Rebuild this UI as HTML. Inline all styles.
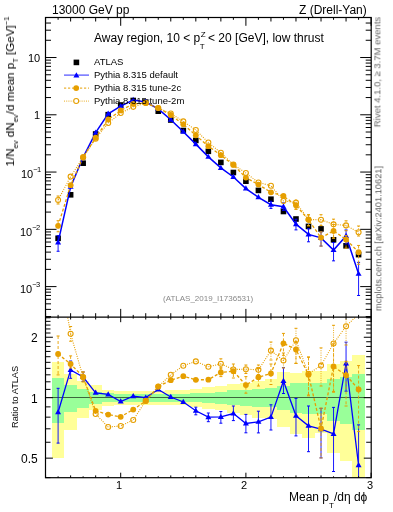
<!DOCTYPE html>
<html><head><meta charset="utf-8"><style>
html,body{margin:0;padding:0;background:#fff;}
body{width:393px;height:512px;position:relative;overflow:hidden;-webkit-font-smoothing:antialiased;font-family:"Liberation Sans",sans-serif;color:#000;}
.t{position:absolute;white-space:nowrap;line-height:1;will-change:transform;}
sub,sup{line-height:0;}
</style></head><body>
<svg width="393" height="512" viewBox="0 0 393 512" style="position:absolute;left:0;top:0"><defs><clipPath id="cm"><rect x="45.5" y="17.5" width="325.7" height="299.7"/></clipPath><clipPath id="cr"><rect x="45.5" y="317.2" width="325.7" height="160.5"/></clipPath></defs><g clip-path="url(#cr)" shape-rendering="crispEdges"><rect x="51.84" y="362.10" width="12.52" height="95.90" fill="#ffff99"/><rect x="64.36" y="373.50" width="12.52" height="56.10" fill="#ffff99"/><rect x="76.88" y="380.80" width="12.52" height="37.40" fill="#ffff99"/><rect x="89.40" y="385.40" width="12.52" height="24.40" fill="#ffff99"/><rect x="101.92" y="390.20" width="12.52" height="15.50" fill="#ffff99"/><rect x="114.44" y="391.10" width="12.52" height="13.50" fill="#ffff99"/><rect x="126.96" y="391.00" width="12.52" height="13.80" fill="#ffff99"/><rect x="139.48" y="391.00" width="12.52" height="13.80" fill="#ffff99"/><rect x="152.00" y="390.80" width="12.52" height="14.00" fill="#ffff99"/><rect x="164.52" y="390.30" width="12.52" height="14.70" fill="#ffff99"/><rect x="177.04" y="389.80" width="12.52" height="15.60" fill="#ffff99"/><rect x="189.56" y="388.80" width="12.52" height="17.80" fill="#ffff99"/><rect x="202.08" y="387.10" width="12.52" height="21.70" fill="#ffff99"/><rect x="214.60" y="385.90" width="12.52" height="24.50" fill="#ffff99"/><rect x="227.12" y="383.90" width="12.52" height="29.30" fill="#ffff99"/><rect x="239.64" y="383.00" width="12.52" height="32.30" fill="#ffff99"/><rect x="252.16" y="380.70" width="12.52" height="36.80" fill="#ffff99"/><rect x="264.68" y="379.30" width="12.52" height="39.50" fill="#ffff99"/><rect x="277.20" y="371.90" width="12.52" height="54.90" fill="#ffff99"/><rect x="289.72" y="372.80" width="12.52" height="61.50" fill="#ffff99"/><rect x="302.24" y="371.10" width="12.52" height="67.30" fill="#ffff99"/><rect x="314.76" y="370.60" width="12.52" height="62.80" fill="#ffff99"/><rect x="327.28" y="363.50" width="12.52" height="89.80" fill="#ffff99"/><rect x="339.80" y="361.00" width="12.52" height="100.40" fill="#ffff99"/><rect x="352.32" y="354.90" width="12.52" height="123.10" fill="#ffff99"/><rect x="51.84" y="377.80" width="12.52" height="45.00" fill="#99ff99"/><rect x="64.36" y="385.10" width="12.52" height="27.10" fill="#99ff99"/><rect x="76.88" y="388.60" width="12.52" height="19.10" fill="#99ff99"/><rect x="89.40" y="392.00" width="12.52" height="12.10" fill="#99ff99"/><rect x="101.92" y="393.30" width="12.52" height="8.50" fill="#99ff99"/><rect x="114.44" y="394.10" width="12.52" height="7.70" fill="#99ff99"/><rect x="126.96" y="393.90" width="12.52" height="7.90" fill="#99ff99"/><rect x="139.48" y="393.90" width="12.52" height="7.90" fill="#99ff99"/><rect x="152.00" y="393.80" width="12.52" height="8.00" fill="#99ff99"/><rect x="164.52" y="393.60" width="12.52" height="7.90" fill="#99ff99"/><rect x="177.04" y="393.60" width="12.52" height="8.00" fill="#99ff99"/><rect x="189.56" y="393.20" width="12.52" height="8.90" fill="#99ff99"/><rect x="202.08" y="392.60" width="12.52" height="10.40" fill="#99ff99"/><rect x="214.60" y="392.10" width="12.52" height="11.40" fill="#99ff99"/><rect x="227.12" y="390.40" width="12.52" height="15.00" fill="#99ff99"/><rect x="239.64" y="389.80" width="12.52" height="15.80" fill="#99ff99"/><rect x="252.16" y="388.80" width="12.52" height="18.30" fill="#99ff99"/><rect x="264.68" y="388.30" width="12.52" height="19.10" fill="#99ff99"/><rect x="277.20" y="386.00" width="12.52" height="24.30" fill="#99ff99"/><rect x="289.72" y="383.20" width="12.52" height="29.60" fill="#99ff99"/><rect x="302.24" y="382.70" width="12.52" height="30.90" fill="#99ff99"/><rect x="314.76" y="382.70" width="12.52" height="30.90" fill="#99ff99"/><rect x="327.28" y="378.80" width="12.52" height="42.20" fill="#99ff99"/><rect x="339.80" y="377.20" width="12.52" height="46.40" fill="#99ff99"/><rect x="352.32" y="373.70" width="12.52" height="56.70" fill="#99ff99"/></g><line x1="45.5" y1="397.5" x2="371.2" y2="397.5" stroke="#000" stroke-opacity="0.6" stroke-width="1.2"/><g clip-path="url(#cr)"><polyline points="58.10,412.20 70.62,369.90 83.14,377.00 95.66,392.80 108.18,394.40 120.70,401.50 133.22,396.20 145.74,397.60 158.26,389.50 170.78,397.00 183.30,402.00 195.82,410.80 208.34,417.20 220.86,416.90 233.38,413.50 245.90,423.50 258.42,421.80 270.94,417.10 283.46,381.00 295.98,415.80 308.50,425.80 321.02,429.20 333.54,433.90 346.06,363.50 358.58,465.20" fill="none" stroke="#0000ff" stroke-width="1.3" /><line x1="58.10" y1="388.30" x2="58.10" y2="443.10" stroke="#0000ff" stroke-width="0.9" /><line x1="56.60" y1="388.30" x2="59.60" y2="388.30" stroke="#0000ff" stroke-width="1"/><line x1="56.60" y1="443.10" x2="59.60" y2="443.10" stroke="#0000ff" stroke-width="1"/><line x1="70.62" y1="361.00" x2="70.62" y2="378.30" stroke="#0000ff" stroke-width="0.9" /><line x1="69.12" y1="361.00" x2="72.12" y2="361.00" stroke="#0000ff" stroke-width="1"/><line x1="69.12" y1="378.30" x2="72.12" y2="378.30" stroke="#0000ff" stroke-width="1"/><line x1="83.14" y1="372.00" x2="83.14" y2="381.50" stroke="#0000ff" stroke-width="0.9" /><line x1="81.64" y1="372.00" x2="84.64" y2="372.00" stroke="#0000ff" stroke-width="1"/><line x1="81.64" y1="381.50" x2="84.64" y2="381.50" stroke="#0000ff" stroke-width="1"/><line x1="195.82" y1="407.20" x2="195.82" y2="414.80" stroke="#0000ff" stroke-width="0.9" /><line x1="194.32" y1="407.20" x2="197.32" y2="407.20" stroke="#0000ff" stroke-width="1"/><line x1="194.32" y1="414.80" x2="197.32" y2="414.80" stroke="#0000ff" stroke-width="1"/><line x1="208.34" y1="413.00" x2="208.34" y2="421.70" stroke="#0000ff" stroke-width="0.9" /><line x1="206.84" y1="413.00" x2="209.84" y2="413.00" stroke="#0000ff" stroke-width="1"/><line x1="206.84" y1="421.70" x2="209.84" y2="421.70" stroke="#0000ff" stroke-width="1"/><line x1="220.86" y1="411.50" x2="220.86" y2="423.20" stroke="#0000ff" stroke-width="0.9" /><line x1="219.36" y1="411.50" x2="222.36" y2="411.50" stroke="#0000ff" stroke-width="1"/><line x1="219.36" y1="423.20" x2="222.36" y2="423.20" stroke="#0000ff" stroke-width="1"/><line x1="233.38" y1="406.00" x2="233.38" y2="420.60" stroke="#0000ff" stroke-width="0.9" /><line x1="231.88" y1="406.00" x2="234.88" y2="406.00" stroke="#0000ff" stroke-width="1"/><line x1="231.88" y1="420.60" x2="234.88" y2="420.60" stroke="#0000ff" stroke-width="1"/><line x1="245.90" y1="414.40" x2="245.90" y2="432.80" stroke="#0000ff" stroke-width="0.9" /><line x1="244.40" y1="414.40" x2="247.40" y2="414.40" stroke="#0000ff" stroke-width="1"/><line x1="244.40" y1="432.80" x2="247.40" y2="432.80" stroke="#0000ff" stroke-width="1"/><line x1="258.42" y1="411.20" x2="258.42" y2="432.90" stroke="#0000ff" stroke-width="0.9" /><line x1="256.92" y1="411.20" x2="259.92" y2="411.20" stroke="#0000ff" stroke-width="1"/><line x1="256.92" y1="432.90" x2="259.92" y2="432.90" stroke="#0000ff" stroke-width="1"/><line x1="270.94" y1="404.80" x2="270.94" y2="430.00" stroke="#0000ff" stroke-width="0.9" /><line x1="269.44" y1="404.80" x2="272.44" y2="404.80" stroke="#0000ff" stroke-width="1"/><line x1="269.44" y1="430.00" x2="272.44" y2="430.00" stroke="#0000ff" stroke-width="1"/><line x1="283.46" y1="367.60" x2="283.46" y2="393.50" stroke="#0000ff" stroke-width="0.9" /><line x1="281.96" y1="367.60" x2="284.96" y2="367.60" stroke="#0000ff" stroke-width="1"/><line x1="281.96" y1="393.50" x2="284.96" y2="393.50" stroke="#0000ff" stroke-width="1"/><line x1="295.98" y1="398.40" x2="295.98" y2="435.90" stroke="#0000ff" stroke-width="0.9" /><line x1="294.48" y1="398.40" x2="297.48" y2="398.40" stroke="#0000ff" stroke-width="1"/><line x1="294.48" y1="435.90" x2="297.48" y2="435.90" stroke="#0000ff" stroke-width="1"/><line x1="308.50" y1="406.00" x2="308.50" y2="451.70" stroke="#0000ff" stroke-width="0.9" /><line x1="307.00" y1="406.00" x2="310.00" y2="406.00" stroke="#0000ff" stroke-width="1"/><line x1="307.00" y1="451.70" x2="310.00" y2="451.70" stroke="#0000ff" stroke-width="1"/><line x1="321.02" y1="408.40" x2="321.02" y2="457.90" stroke="#0000ff" stroke-width="0.9" /><line x1="319.52" y1="408.40" x2="322.52" y2="408.40" stroke="#0000ff" stroke-width="1"/><line x1="319.52" y1="457.90" x2="322.52" y2="457.90" stroke="#0000ff" stroke-width="1"/><line x1="333.54" y1="407.40" x2="333.54" y2="471.50" stroke="#0000ff" stroke-width="0.9" /><line x1="332.04" y1="407.40" x2="335.04" y2="407.40" stroke="#0000ff" stroke-width="1"/><line x1="332.04" y1="471.50" x2="335.04" y2="471.50" stroke="#0000ff" stroke-width="1"/><line x1="346.06" y1="342.20" x2="346.06" y2="391.20" stroke="#0000ff" stroke-width="0.9" /><line x1="344.56" y1="342.20" x2="347.56" y2="342.20" stroke="#0000ff" stroke-width="1"/><line x1="344.56" y1="391.20" x2="347.56" y2="391.20" stroke="#0000ff" stroke-width="1"/><line x1="358.58" y1="424.90" x2="358.58" y2="541.00" stroke="#0000ff" stroke-width="0.9" /><line x1="357.08" y1="424.90" x2="360.08" y2="424.90" stroke="#0000ff" stroke-width="1"/><line x1="357.08" y1="541.00" x2="360.08" y2="541.00" stroke="#0000ff" stroke-width="1"/><path d="M58.10,409.00 L61.10,414.20 L55.10,414.20Z" fill="#0000ff"/><path d="M70.62,366.70 L73.62,371.90 L67.62,371.90Z" fill="#0000ff"/><path d="M83.14,373.80 L86.14,379.00 L80.14,379.00Z" fill="#0000ff"/><path d="M95.66,389.60 L98.66,394.80 L92.66,394.80Z" fill="#0000ff"/><path d="M108.18,391.20 L111.18,396.40 L105.18,396.40Z" fill="#0000ff"/><path d="M120.70,398.30 L123.70,403.50 L117.70,403.50Z" fill="#0000ff"/><path d="M133.22,393.00 L136.22,398.20 L130.22,398.20Z" fill="#0000ff"/><path d="M145.74,394.40 L148.74,399.60 L142.74,399.60Z" fill="#0000ff"/><path d="M158.26,386.30 L161.26,391.50 L155.26,391.50Z" fill="#0000ff"/><path d="M170.78,393.80 L173.78,399.00 L167.78,399.00Z" fill="#0000ff"/><path d="M183.30,398.80 L186.30,404.00 L180.30,404.00Z" fill="#0000ff"/><path d="M195.82,407.60 L198.82,412.80 L192.82,412.80Z" fill="#0000ff"/><path d="M208.34,414.00 L211.34,419.20 L205.34,419.20Z" fill="#0000ff"/><path d="M220.86,413.70 L223.86,418.90 L217.86,418.90Z" fill="#0000ff"/><path d="M233.38,410.30 L236.38,415.50 L230.38,415.50Z" fill="#0000ff"/><path d="M245.90,420.30 L248.90,425.50 L242.90,425.50Z" fill="#0000ff"/><path d="M258.42,418.60 L261.42,423.80 L255.42,423.80Z" fill="#0000ff"/><path d="M270.94,413.90 L273.94,419.10 L267.94,419.10Z" fill="#0000ff"/><path d="M283.46,377.80 L286.46,383.00 L280.46,383.00Z" fill="#0000ff"/><path d="M295.98,412.60 L298.98,417.80 L292.98,417.80Z" fill="#0000ff"/><path d="M308.50,422.60 L311.50,427.80 L305.50,427.80Z" fill="#0000ff"/><path d="M321.02,426.00 L324.02,431.20 L318.02,431.20Z" fill="#0000ff"/><path d="M333.54,430.70 L336.54,435.90 L330.54,435.90Z" fill="#0000ff"/><path d="M346.06,360.30 L349.06,365.50 L343.06,365.50Z" fill="#0000ff"/><path d="M358.58,462.00 L361.58,467.20 L355.58,467.20Z" fill="#0000ff"/></g><g clip-path="url(#cr)"><polyline points="58.10,354.00 70.62,364.00 83.14,376.80 95.66,410.80 108.18,414.60 120.70,416.80 133.22,409.60 145.74,401.00 158.26,386.60 170.78,380.20 183.30,376.20 195.82,379.80 208.34,379.70 220.86,372.40 233.38,371.20 245.90,385.10 258.42,377.20 270.94,373.50 283.46,343.30 295.98,349.50 308.50,374.80 321.02,428.50 333.54,366.50 346.06,375.20 358.58,389.40" fill="none" stroke="#e69f00" stroke-width="1.3" stroke-dasharray="3,2"/><line x1="58.10" y1="336.00" x2="58.10" y2="374.90" stroke="#e69f00" stroke-width="0.9" stroke-dasharray="3,2"/><line x1="56.60" y1="336.00" x2="59.60" y2="336.00" stroke="#e69f00" stroke-width="1"/><line x1="56.60" y1="374.90" x2="59.60" y2="374.90" stroke="#e69f00" stroke-width="1"/><line x1="70.62" y1="355.90" x2="70.62" y2="368.00" stroke="#e69f00" stroke-width="0.9" stroke-dasharray="3,2"/><line x1="69.12" y1="355.90" x2="72.12" y2="355.90" stroke="#e69f00" stroke-width="1"/><line x1="69.12" y1="368.00" x2="72.12" y2="368.00" stroke="#e69f00" stroke-width="1"/><line x1="83.14" y1="372.00" x2="83.14" y2="381.00" stroke="#e69f00" stroke-width="0.9" stroke-dasharray="3,2"/><line x1="81.64" y1="372.00" x2="84.64" y2="372.00" stroke="#e69f00" stroke-width="1"/><line x1="81.64" y1="381.00" x2="84.64" y2="381.00" stroke="#e69f00" stroke-width="1"/><line x1="220.86" y1="367.70" x2="220.86" y2="376.60" stroke="#e69f00" stroke-width="0.9" stroke-dasharray="3,2"/><line x1="219.36" y1="367.70" x2="222.36" y2="367.70" stroke="#e69f00" stroke-width="1"/><line x1="219.36" y1="376.60" x2="222.36" y2="376.60" stroke="#e69f00" stroke-width="1"/><line x1="233.38" y1="364.00" x2="233.38" y2="378.00" stroke="#e69f00" stroke-width="0.9" stroke-dasharray="3,2"/><line x1="231.88" y1="364.00" x2="234.88" y2="364.00" stroke="#e69f00" stroke-width="1"/><line x1="231.88" y1="378.00" x2="234.88" y2="378.00" stroke="#e69f00" stroke-width="1"/><line x1="245.90" y1="376.60" x2="245.90" y2="393.20" stroke="#e69f00" stroke-width="0.9" stroke-dasharray="3,2"/><line x1="244.40" y1="376.60" x2="247.40" y2="376.60" stroke="#e69f00" stroke-width="1"/><line x1="244.40" y1="393.20" x2="247.40" y2="393.20" stroke="#e69f00" stroke-width="1"/><line x1="258.42" y1="368.50" x2="258.42" y2="386.00" stroke="#e69f00" stroke-width="0.9" stroke-dasharray="3,2"/><line x1="256.92" y1="368.50" x2="259.92" y2="368.50" stroke="#e69f00" stroke-width="1"/><line x1="256.92" y1="386.00" x2="259.92" y2="386.00" stroke="#e69f00" stroke-width="1"/><line x1="270.94" y1="364.00" x2="270.94" y2="384.50" stroke="#e69f00" stroke-width="0.9" stroke-dasharray="3,2"/><line x1="269.44" y1="364.00" x2="272.44" y2="364.00" stroke="#e69f00" stroke-width="1"/><line x1="269.44" y1="384.50" x2="272.44" y2="384.50" stroke="#e69f00" stroke-width="1"/><line x1="283.46" y1="333.40" x2="283.46" y2="355.30" stroke="#e69f00" stroke-width="0.9" stroke-dasharray="3,2"/><line x1="281.96" y1="333.40" x2="284.96" y2="333.40" stroke="#e69f00" stroke-width="1"/><line x1="281.96" y1="355.30" x2="284.96" y2="355.30" stroke="#e69f00" stroke-width="1"/><line x1="295.98" y1="341.70" x2="295.98" y2="363.40" stroke="#e69f00" stroke-width="0.9" stroke-dasharray="3,2"/><line x1="294.48" y1="341.70" x2="297.48" y2="341.70" stroke="#e69f00" stroke-width="1"/><line x1="294.48" y1="363.40" x2="297.48" y2="363.40" stroke="#e69f00" stroke-width="1"/><line x1="308.50" y1="357.00" x2="308.50" y2="395.80" stroke="#e69f00" stroke-width="0.9" stroke-dasharray="3,2"/><line x1="307.00" y1="357.00" x2="310.00" y2="357.00" stroke="#e69f00" stroke-width="1"/><line x1="307.00" y1="395.80" x2="310.00" y2="395.80" stroke="#e69f00" stroke-width="1"/><line x1="321.02" y1="408.00" x2="321.02" y2="457.90" stroke="#e69f00" stroke-width="0.9" stroke-dasharray="3,2"/><line x1="319.52" y1="408.00" x2="322.52" y2="408.00" stroke="#e69f00" stroke-width="1"/><line x1="319.52" y1="457.90" x2="322.52" y2="457.90" stroke="#e69f00" stroke-width="1"/><line x1="333.54" y1="343.80" x2="333.54" y2="391.40" stroke="#e69f00" stroke-width="0.9" stroke-dasharray="3,2"/><line x1="332.04" y1="343.80" x2="335.04" y2="343.80" stroke="#e69f00" stroke-width="1"/><line x1="332.04" y1="391.40" x2="335.04" y2="391.40" stroke="#e69f00" stroke-width="1"/><line x1="346.06" y1="361.30" x2="346.06" y2="406.00" stroke="#e69f00" stroke-width="0.9" stroke-dasharray="3,2"/><line x1="344.56" y1="361.30" x2="347.56" y2="361.30" stroke="#e69f00" stroke-width="1"/><line x1="344.56" y1="406.00" x2="347.56" y2="406.00" stroke="#e69f00" stroke-width="1"/><line x1="358.58" y1="365.60" x2="358.58" y2="431.60" stroke="#e69f00" stroke-width="0.9" stroke-dasharray="3,2"/><line x1="357.08" y1="365.60" x2="360.08" y2="365.60" stroke="#e69f00" stroke-width="1"/><line x1="357.08" y1="431.60" x2="360.08" y2="431.60" stroke="#e69f00" stroke-width="1"/><circle cx="58.10" cy="354.00" r="2.9" fill="#e69f00"/><circle cx="70.62" cy="364.00" r="2.9" fill="#e69f00"/><circle cx="83.14" cy="376.80" r="2.9" fill="#e69f00"/><circle cx="95.66" cy="410.80" r="2.9" fill="#e69f00"/><circle cx="108.18" cy="414.60" r="2.9" fill="#e69f00"/><circle cx="120.70" cy="416.80" r="2.9" fill="#e69f00"/><circle cx="133.22" cy="409.60" r="2.9" fill="#e69f00"/><circle cx="145.74" cy="401.00" r="2.9" fill="#e69f00"/><circle cx="158.26" cy="386.60" r="2.9" fill="#e69f00"/><circle cx="170.78" cy="380.20" r="2.9" fill="#e69f00"/><circle cx="183.30" cy="376.20" r="2.9" fill="#e69f00"/><circle cx="195.82" cy="379.80" r="2.9" fill="#e69f00"/><circle cx="208.34" cy="379.70" r="2.9" fill="#e69f00"/><circle cx="220.86" cy="372.40" r="2.9" fill="#e69f00"/><circle cx="233.38" cy="371.20" r="2.9" fill="#e69f00"/><circle cx="245.90" cy="385.10" r="2.9" fill="#e69f00"/><circle cx="258.42" cy="377.20" r="2.9" fill="#e69f00"/><circle cx="270.94" cy="373.50" r="2.9" fill="#e69f00"/><circle cx="283.46" cy="343.30" r="2.9" fill="#e69f00"/><circle cx="295.98" cy="349.50" r="2.9" fill="#e69f00"/><circle cx="308.50" cy="374.80" r="2.9" fill="#e69f00"/><circle cx="321.02" cy="428.50" r="2.9" fill="#e69f00"/><circle cx="333.54" cy="366.50" r="2.9" fill="#e69f00"/><circle cx="346.06" cy="375.20" r="2.9" fill="#e69f00"/><circle cx="358.58" cy="389.40" r="2.9" fill="#e69f00"/></g><g clip-path="url(#cr)"><polyline points="70.62,333.80 83.14,377.20 95.66,414.00 108.18,427.00 120.70,426.00 133.22,420.00 145.74,400.90 158.26,386.60 170.78,374.80 183.30,365.70 195.82,361.40 208.34,366.80 220.86,363.80 233.38,369.50 245.90,369.20 258.42,369.80 270.94,350.60 283.46,360.50 295.98,340.30 308.50,373.80 321.02,365.60 333.54,343.50 346.06,326.20 358.58,314.00" fill="none" stroke="#e69f00" stroke-width="1.1" stroke-dasharray="1,1.3"/><line x1="70.62" y1="326.50" x2="70.62" y2="341.20" stroke="#e69f00" stroke-width="0.9" stroke-dasharray="1,1.3"/><line x1="69.12" y1="326.50" x2="72.12" y2="326.50" stroke="#e69f00" stroke-width="1"/><line x1="69.12" y1="341.20" x2="72.12" y2="341.20" stroke="#e69f00" stroke-width="1"/><line x1="83.14" y1="372.00" x2="83.14" y2="382.00" stroke="#e69f00" stroke-width="0.9" stroke-dasharray="1,1.3"/><line x1="81.64" y1="372.00" x2="84.64" y2="372.00" stroke="#e69f00" stroke-width="1"/><line x1="81.64" y1="382.00" x2="84.64" y2="382.00" stroke="#e69f00" stroke-width="1"/><line x1="220.86" y1="358.80" x2="220.86" y2="369.00" stroke="#e69f00" stroke-width="0.9" stroke-dasharray="1,1.3"/><line x1="219.36" y1="358.80" x2="222.36" y2="358.80" stroke="#e69f00" stroke-width="1"/><line x1="219.36" y1="369.00" x2="222.36" y2="369.00" stroke="#e69f00" stroke-width="1"/><line x1="245.90" y1="365.00" x2="245.90" y2="373.50" stroke="#e69f00" stroke-width="0.9" stroke-dasharray="1,1.3"/><line x1="244.40" y1="365.00" x2="247.40" y2="365.00" stroke="#e69f00" stroke-width="1"/><line x1="244.40" y1="373.50" x2="247.40" y2="373.50" stroke="#e69f00" stroke-width="1"/><line x1="258.42" y1="365.00" x2="258.42" y2="374.50" stroke="#e69f00" stroke-width="0.9" stroke-dasharray="1,1.3"/><line x1="256.92" y1="365.00" x2="259.92" y2="365.00" stroke="#e69f00" stroke-width="1"/><line x1="256.92" y1="374.50" x2="259.92" y2="374.50" stroke="#e69f00" stroke-width="1"/><line x1="270.94" y1="342.00" x2="270.94" y2="360.00" stroke="#e69f00" stroke-width="0.9" stroke-dasharray="1,1.3"/><line x1="269.44" y1="342.00" x2="272.44" y2="342.00" stroke="#e69f00" stroke-width="1"/><line x1="269.44" y1="360.00" x2="272.44" y2="360.00" stroke="#e69f00" stroke-width="1"/><line x1="283.46" y1="353.00" x2="283.46" y2="368.00" stroke="#e69f00" stroke-width="0.9" stroke-dasharray="1,1.3"/><line x1="281.96" y1="353.00" x2="284.96" y2="353.00" stroke="#e69f00" stroke-width="1"/><line x1="281.96" y1="368.00" x2="284.96" y2="368.00" stroke="#e69f00" stroke-width="1"/><line x1="295.98" y1="328.30" x2="295.98" y2="363.40" stroke="#e69f00" stroke-width="0.9" stroke-dasharray="1,1.3"/><line x1="294.48" y1="328.30" x2="297.48" y2="328.30" stroke="#e69f00" stroke-width="1"/><line x1="294.48" y1="363.40" x2="297.48" y2="363.40" stroke="#e69f00" stroke-width="1"/><line x1="308.50" y1="357.20" x2="308.50" y2="395.00" stroke="#e69f00" stroke-width="0.9" stroke-dasharray="1,1.3"/><line x1="307.00" y1="357.20" x2="310.00" y2="357.20" stroke="#e69f00" stroke-width="1"/><line x1="307.00" y1="395.00" x2="310.00" y2="395.00" stroke="#e69f00" stroke-width="1"/><line x1="321.02" y1="347.90" x2="321.02" y2="386.00" stroke="#e69f00" stroke-width="0.9" stroke-dasharray="1,1.3"/><line x1="319.52" y1="347.90" x2="322.52" y2="347.90" stroke="#e69f00" stroke-width="1"/><line x1="319.52" y1="386.00" x2="322.52" y2="386.00" stroke="#e69f00" stroke-width="1"/><line x1="333.54" y1="325.30" x2="333.54" y2="392.20" stroke="#e69f00" stroke-width="0.9" stroke-dasharray="1,1.3"/><line x1="332.04" y1="325.30" x2="335.04" y2="325.30" stroke="#e69f00" stroke-width="1"/><line x1="332.04" y1="392.20" x2="335.04" y2="392.20" stroke="#e69f00" stroke-width="1"/><line x1="346.06" y1="310.00" x2="346.06" y2="345.00" stroke="#e69f00" stroke-width="0.9" stroke-dasharray="1,1.3"/><line x1="344.56" y1="310.00" x2="347.56" y2="310.00" stroke="#e69f00" stroke-width="1"/><line x1="344.56" y1="345.00" x2="347.56" y2="345.00" stroke="#e69f00" stroke-width="1"/><circle cx="70.62" cy="333.80" r="2.5" fill="none" stroke="#e69f00" stroke-width="1.1"/><circle cx="83.14" cy="377.20" r="2.5" fill="none" stroke="#e69f00" stroke-width="1.1"/><circle cx="95.66" cy="414.00" r="2.5" fill="none" stroke="#e69f00" stroke-width="1.1"/><circle cx="108.18" cy="427.00" r="2.5" fill="none" stroke="#e69f00" stroke-width="1.1"/><circle cx="120.70" cy="426.00" r="2.5" fill="none" stroke="#e69f00" stroke-width="1.1"/><circle cx="133.22" cy="420.00" r="2.5" fill="none" stroke="#e69f00" stroke-width="1.1"/><circle cx="145.74" cy="400.90" r="2.5" fill="none" stroke="#e69f00" stroke-width="1.1"/><circle cx="158.26" cy="386.60" r="2.5" fill="none" stroke="#e69f00" stroke-width="1.1"/><circle cx="170.78" cy="374.80" r="2.5" fill="none" stroke="#e69f00" stroke-width="1.1"/><circle cx="183.30" cy="365.70" r="2.5" fill="none" stroke="#e69f00" stroke-width="1.1"/><circle cx="195.82" cy="361.40" r="2.5" fill="none" stroke="#e69f00" stroke-width="1.1"/><circle cx="208.34" cy="366.80" r="2.5" fill="none" stroke="#e69f00" stroke-width="1.1"/><circle cx="220.86" cy="363.80" r="2.5" fill="none" stroke="#e69f00" stroke-width="1.1"/><circle cx="233.38" cy="369.50" r="2.5" fill="none" stroke="#e69f00" stroke-width="1.1"/><circle cx="245.90" cy="369.20" r="2.5" fill="none" stroke="#e69f00" stroke-width="1.1"/><circle cx="258.42" cy="369.80" r="2.5" fill="none" stroke="#e69f00" stroke-width="1.1"/><circle cx="270.94" cy="350.60" r="2.5" fill="none" stroke="#e69f00" stroke-width="1.1"/><circle cx="283.46" cy="360.50" r="2.5" fill="none" stroke="#e69f00" stroke-width="1.1"/><circle cx="295.98" cy="340.30" r="2.5" fill="none" stroke="#e69f00" stroke-width="1.1"/><circle cx="308.50" cy="373.80" r="2.5" fill="none" stroke="#e69f00" stroke-width="1.1"/><circle cx="321.02" cy="365.60" r="2.5" fill="none" stroke="#e69f00" stroke-width="1.1"/><circle cx="333.54" cy="343.50" r="2.5" fill="none" stroke="#e69f00" stroke-width="1.1"/><circle cx="346.06" cy="326.20" r="2.5" fill="none" stroke="#e69f00" stroke-width="1.1"/><circle cx="358.58" cy="314.00" r="2.5" fill="none" stroke="#e69f00" stroke-width="1.1"/></g><g clip-path="url(#cr)"><line x1="58.10" y1="263.30" x2="70.62" y2="333.8" stroke="#e69f00" stroke-width="1.1" stroke-dasharray="1,1.3"/></g><g clip-path="url(#cm)"><rect x="55.30" y="235.50" width="5.6" height="5.6" fill="#000"/><rect x="67.82" y="192.00" width="5.6" height="5.6" fill="#000"/><rect x="80.34" y="160.40" width="5.6" height="5.6" fill="#000"/><rect x="92.86" y="131.20" width="5.6" height="5.6" fill="#000"/><rect x="105.38" y="111.90" width="5.6" height="5.6" fill="#000"/><rect x="117.90" y="102.20" width="5.6" height="5.6" fill="#000"/><rect x="130.42" y="97.70" width="5.6" height="5.6" fill="#000"/><rect x="142.94" y="99.30" width="5.6" height="5.6" fill="#000"/><rect x="155.46" y="108.40" width="5.6" height="5.6" fill="#000"/><rect x="167.98" y="117.20" width="5.6" height="5.6" fill="#000"/><rect x="180.50" y="127.70" width="5.6" height="5.6" fill="#000"/><rect x="193.02" y="137.60" width="5.6" height="5.6" fill="#000"/><rect x="205.54" y="148.50" width="5.6" height="5.6" fill="#000"/><rect x="218.06" y="159.60" width="5.6" height="5.6" fill="#000"/><rect x="230.58" y="169.70" width="5.6" height="5.6" fill="#000"/><rect x="243.10" y="178.40" width="5.6" height="5.6" fill="#000"/><rect x="255.62" y="187.60" width="5.6" height="5.6" fill="#000"/><rect x="268.14" y="196.40" width="5.6" height="5.6" fill="#000"/><rect x="280.66" y="208.70" width="5.6" height="5.6" fill="#000"/><rect x="293.18" y="216.20" width="5.6" height="5.6" fill="#000"/><rect x="305.70" y="223.60" width="5.6" height="5.6" fill="#000"/><rect x="318.22" y="226.10" width="5.6" height="5.6" fill="#000"/><rect x="330.74" y="237.00" width="5.6" height="5.6" fill="#000"/><rect x="343.26" y="243.00" width="5.6" height="5.6" fill="#000"/><rect x="355.78" y="251.80" width="5.6" height="5.6" fill="#000"/></g><g clip-path="url(#cm)"><polyline points="58.10,242.44 70.62,186.87 83.14,157.30 95.66,132.60 108.18,113.76 120.70,106.08 133.22,100.07 145.74,102.07 158.26,108.86 170.78,119.80 183.30,131.73 195.82,144.14 208.34,156.86 220.86,167.88 233.38,177.01 245.90,188.56 258.42,197.27 270.94,204.73 283.46,206.74 295.98,224.16 308.50,234.41 321.02,237.88 333.54,250.12 346.06,236.05 358.58,273.85" fill="none" stroke="#0000ff" stroke-width="1.5" /><line x1="58.10" y1="235.62" x2="58.10" y2="251.25" stroke="#0000ff" stroke-width="0.9" /><line x1="56.60" y1="235.62" x2="59.60" y2="235.62" stroke="#0000ff" stroke-width="1"/><line x1="56.60" y1="251.25" x2="59.60" y2="251.25" stroke="#0000ff" stroke-width="1"/><line x1="270.94" y1="201.22" x2="270.94" y2="208.41" stroke="#0000ff" stroke-width="0.9" /><line x1="269.44" y1="201.22" x2="272.44" y2="201.22" stroke="#0000ff" stroke-width="1"/><line x1="269.44" y1="208.41" x2="272.44" y2="208.41" stroke="#0000ff" stroke-width="1"/><line x1="283.46" y1="202.92" x2="283.46" y2="210.30" stroke="#0000ff" stroke-width="0.9" /><line x1="281.96" y1="202.92" x2="284.96" y2="202.92" stroke="#0000ff" stroke-width="1"/><line x1="281.96" y1="210.30" x2="284.96" y2="210.30" stroke="#0000ff" stroke-width="1"/><line x1="295.98" y1="219.20" x2="295.98" y2="229.89" stroke="#0000ff" stroke-width="0.9" /><line x1="294.48" y1="219.20" x2="297.48" y2="219.20" stroke="#0000ff" stroke-width="1"/><line x1="294.48" y1="229.89" x2="297.48" y2="229.89" stroke="#0000ff" stroke-width="1"/><line x1="308.50" y1="228.77" x2="308.50" y2="241.80" stroke="#0000ff" stroke-width="0.9" /><line x1="307.00" y1="228.77" x2="310.00" y2="228.77" stroke="#0000ff" stroke-width="1"/><line x1="307.00" y1="241.80" x2="310.00" y2="241.80" stroke="#0000ff" stroke-width="1"/><line x1="321.02" y1="231.95" x2="321.02" y2="246.07" stroke="#0000ff" stroke-width="0.9" /><line x1="319.52" y1="231.95" x2="322.52" y2="231.95" stroke="#0000ff" stroke-width="1"/><line x1="319.52" y1="246.07" x2="322.52" y2="246.07" stroke="#0000ff" stroke-width="1"/><line x1="333.54" y1="242.57" x2="333.54" y2="260.85" stroke="#0000ff" stroke-width="0.9" /><line x1="332.04" y1="242.57" x2="335.04" y2="242.57" stroke="#0000ff" stroke-width="1"/><line x1="332.04" y1="260.85" x2="335.04" y2="260.85" stroke="#0000ff" stroke-width="1"/><line x1="346.06" y1="229.97" x2="346.06" y2="243.95" stroke="#0000ff" stroke-width="0.9" /><line x1="344.56" y1="229.97" x2="347.56" y2="229.97" stroke="#0000ff" stroke-width="1"/><line x1="344.56" y1="243.95" x2="347.56" y2="243.95" stroke="#0000ff" stroke-width="1"/><line x1="358.58" y1="262.36" x2="358.58" y2="295.47" stroke="#0000ff" stroke-width="0.9" /><line x1="357.08" y1="262.36" x2="360.08" y2="262.36" stroke="#0000ff" stroke-width="1"/><line x1="357.08" y1="295.47" x2="360.08" y2="295.47" stroke="#0000ff" stroke-width="1"/><path d="M58.10,239.24 L61.10,244.44 L55.10,244.44Z" fill="#0000ff"/><path d="M70.62,183.67 L73.62,188.87 L67.62,188.87Z" fill="#0000ff"/><path d="M83.14,154.10 L86.14,159.30 L80.14,159.30Z" fill="#0000ff"/><path d="M95.66,129.40 L98.66,134.60 L92.66,134.60Z" fill="#0000ff"/><path d="M108.18,110.56 L111.18,115.76 L105.18,115.76Z" fill="#0000ff"/><path d="M120.70,102.88 L123.70,108.08 L117.70,108.08Z" fill="#0000ff"/><path d="M133.22,96.87 L136.22,102.07 L130.22,102.07Z" fill="#0000ff"/><path d="M145.74,98.87 L148.74,104.07 L142.74,104.07Z" fill="#0000ff"/><path d="M158.26,105.66 L161.26,110.86 L155.26,110.86Z" fill="#0000ff"/><path d="M170.78,116.60 L173.78,121.80 L167.78,121.80Z" fill="#0000ff"/><path d="M183.30,128.53 L186.30,133.73 L180.30,133.73Z" fill="#0000ff"/><path d="M195.82,140.94 L198.82,146.14 L192.82,146.14Z" fill="#0000ff"/><path d="M208.34,153.66 L211.34,158.86 L205.34,158.86Z" fill="#0000ff"/><path d="M220.86,164.68 L223.86,169.88 L217.86,169.88Z" fill="#0000ff"/><path d="M233.38,173.81 L236.38,179.01 L230.38,179.01Z" fill="#0000ff"/><path d="M245.90,185.36 L248.90,190.56 L242.90,190.56Z" fill="#0000ff"/><path d="M258.42,194.07 L261.42,199.27 L255.42,199.27Z" fill="#0000ff"/><path d="M270.94,201.53 L273.94,206.73 L267.94,206.73Z" fill="#0000ff"/><path d="M283.46,203.54 L286.46,208.74 L280.46,208.74Z" fill="#0000ff"/><path d="M295.98,220.96 L298.98,226.16 L292.98,226.16Z" fill="#0000ff"/><path d="M308.50,231.21 L311.50,236.41 L305.50,236.41Z" fill="#0000ff"/><path d="M321.02,234.68 L324.02,239.88 L318.02,239.88Z" fill="#0000ff"/><path d="M333.54,246.92 L336.54,252.12 L330.54,252.12Z" fill="#0000ff"/><path d="M346.06,232.85 L349.06,238.05 L343.06,238.05Z" fill="#0000ff"/><path d="M358.58,270.65 L361.58,275.85 L355.58,275.85Z" fill="#0000ff"/></g><g clip-path="url(#cm)"><polyline points="58.10,225.84 70.62,185.19 83.14,157.24 95.66,137.74 108.18,119.52 120.70,110.45 133.22,103.89 145.74,103.04 158.26,108.03 170.78,115.01 183.30,124.37 195.82,135.29 208.34,146.17 220.86,155.18 233.38,164.94 245.90,177.61 258.42,184.55 270.94,192.30 283.46,195.98 295.98,205.25 308.50,219.87 321.02,237.68 333.54,230.90 346.06,239.38 358.58,252.23" fill="none" stroke="#e69f00" stroke-width="1.3" stroke-dasharray="3,2"/><line x1="58.10" y1="220.70" x2="58.10" y2="231.80" stroke="#e69f00" stroke-width="0.9" stroke-dasharray="3,2"/><line x1="56.60" y1="220.70" x2="59.60" y2="220.70" stroke="#e69f00" stroke-width="1"/><line x1="56.60" y1="231.80" x2="59.60" y2="231.80" stroke="#e69f00" stroke-width="1"/><line x1="295.98" y1="203.03" x2="295.98" y2="209.22" stroke="#e69f00" stroke-width="0.9" stroke-dasharray="3,2"/><line x1="294.48" y1="209.22" x2="297.48" y2="209.22" stroke="#e69f00" stroke-width="1"/><line x1="308.50" y1="214.79" x2="308.50" y2="225.86" stroke="#e69f00" stroke-width="0.9" stroke-dasharray="3,2"/><line x1="307.00" y1="214.79" x2="310.00" y2="214.79" stroke="#e69f00" stroke-width="1"/><line x1="307.00" y1="225.86" x2="310.00" y2="225.86" stroke="#e69f00" stroke-width="1"/><line x1="321.02" y1="231.84" x2="321.02" y2="246.07" stroke="#e69f00" stroke-width="0.9" stroke-dasharray="3,2"/><line x1="319.52" y1="231.84" x2="322.52" y2="231.84" stroke="#e69f00" stroke-width="1"/><line x1="319.52" y1="246.07" x2="322.52" y2="246.07" stroke="#e69f00" stroke-width="1"/><line x1="333.54" y1="224.43" x2="333.54" y2="238.00" stroke="#e69f00" stroke-width="0.9" stroke-dasharray="3,2"/><line x1="332.04" y1="224.43" x2="335.04" y2="224.43" stroke="#e69f00" stroke-width="1"/><line x1="332.04" y1="238.00" x2="335.04" y2="238.00" stroke="#e69f00" stroke-width="1"/><line x1="346.06" y1="235.42" x2="346.06" y2="248.17" stroke="#e69f00" stroke-width="0.9" stroke-dasharray="3,2"/><line x1="344.56" y1="235.42" x2="347.56" y2="235.42" stroke="#e69f00" stroke-width="1"/><line x1="344.56" y1="248.17" x2="347.56" y2="248.17" stroke="#e69f00" stroke-width="1"/><line x1="358.58" y1="245.44" x2="358.58" y2="264.27" stroke="#e69f00" stroke-width="0.9" stroke-dasharray="3,2"/><line x1="357.08" y1="245.44" x2="360.08" y2="245.44" stroke="#e69f00" stroke-width="1"/><line x1="357.08" y1="264.27" x2="360.08" y2="264.27" stroke="#e69f00" stroke-width="1"/><circle cx="58.10" cy="225.84" r="2.9" fill="#e69f00"/><circle cx="70.62" cy="185.19" r="2.9" fill="#e69f00"/><circle cx="83.14" cy="157.24" r="2.9" fill="#e69f00"/><circle cx="95.66" cy="137.74" r="2.9" fill="#e69f00"/><circle cx="108.18" cy="119.52" r="2.9" fill="#e69f00"/><circle cx="120.70" cy="110.45" r="2.9" fill="#e69f00"/><circle cx="133.22" cy="103.89" r="2.9" fill="#e69f00"/><circle cx="145.74" cy="103.04" r="2.9" fill="#e69f00"/><circle cx="158.26" cy="108.03" r="2.9" fill="#e69f00"/><circle cx="170.78" cy="115.01" r="2.9" fill="#e69f00"/><circle cx="183.30" cy="124.37" r="2.9" fill="#e69f00"/><circle cx="195.82" cy="135.29" r="2.9" fill="#e69f00"/><circle cx="208.34" cy="146.17" r="2.9" fill="#e69f00"/><circle cx="220.86" cy="155.18" r="2.9" fill="#e69f00"/><circle cx="233.38" cy="164.94" r="2.9" fill="#e69f00"/><circle cx="245.90" cy="177.61" r="2.9" fill="#e69f00"/><circle cx="258.42" cy="184.55" r="2.9" fill="#e69f00"/><circle cx="270.94" cy="192.30" r="2.9" fill="#e69f00"/><circle cx="283.46" cy="195.98" r="2.9" fill="#e69f00"/><circle cx="295.98" cy="205.25" r="2.9" fill="#e69f00"/><circle cx="308.50" cy="219.87" r="2.9" fill="#e69f00"/><circle cx="321.02" cy="237.68" r="2.9" fill="#e69f00"/><circle cx="333.54" cy="230.90" r="2.9" fill="#e69f00"/><circle cx="346.06" cy="239.38" r="2.9" fill="#e69f00"/><circle cx="358.58" cy="252.23" r="2.9" fill="#e69f00"/></g><g clip-path="url(#cm)"><polyline points="58.10,200.00 70.62,176.58 83.14,157.35 95.66,138.65 108.18,123.06 120.70,113.07 133.22,106.86 145.74,103.01 158.26,108.03 170.78,113.47 183.30,121.37 195.82,130.05 208.34,142.49 220.86,152.73 233.38,164.46 245.90,173.07 258.42,182.44 270.94,185.77 283.46,200.89 295.98,202.63 308.50,219.58 321.02,219.74 333.54,224.34 346.06,225.41 358.58,232.30" fill="none" stroke="#e69f00" stroke-width="1.1" stroke-dasharray="1,1.3"/><line x1="58.10" y1="196.00" x2="58.10" y2="204.00" stroke="#e69f00" stroke-width="0.9" stroke-dasharray="1,1.3"/><line x1="56.60" y1="196.00" x2="59.60" y2="196.00" stroke="#e69f00" stroke-width="1"/><line x1="56.60" y1="204.00" x2="59.60" y2="204.00" stroke="#e69f00" stroke-width="1"/><line x1="295.98" y1="199.21" x2="295.98" y2="209.22" stroke="#e69f00" stroke-width="0.9" stroke-dasharray="1,1.3"/><line x1="294.48" y1="209.22" x2="297.48" y2="209.22" stroke="#e69f00" stroke-width="1"/><line x1="308.50" y1="214.85" x2="308.50" y2="225.63" stroke="#e69f00" stroke-width="0.9" stroke-dasharray="1,1.3"/><line x1="307.00" y1="214.85" x2="310.00" y2="214.85" stroke="#e69f00" stroke-width="1"/><line x1="307.00" y1="225.63" x2="310.00" y2="225.63" stroke="#e69f00" stroke-width="1"/><line x1="321.02" y1="214.70" x2="321.02" y2="225.56" stroke="#e69f00" stroke-width="0.9" stroke-dasharray="1,1.3"/><line x1="319.52" y1="214.70" x2="322.52" y2="214.70" stroke="#e69f00" stroke-width="1"/><line x1="319.52" y1="225.56" x2="322.52" y2="225.56" stroke="#e69f00" stroke-width="1"/><line x1="333.54" y1="219.15" x2="333.54" y2="238.23" stroke="#e69f00" stroke-width="0.9" stroke-dasharray="1,1.3"/><line x1="332.04" y1="219.15" x2="335.04" y2="219.15" stroke="#e69f00" stroke-width="1"/><line x1="332.04" y1="238.23" x2="335.04" y2="238.23" stroke="#e69f00" stroke-width="1"/><line x1="346.06" y1="220.79" x2="346.06" y2="230.77" stroke="#e69f00" stroke-width="0.9" stroke-dasharray="1,1.3"/><line x1="344.56" y1="220.79" x2="347.56" y2="220.79" stroke="#e69f00" stroke-width="1"/><line x1="344.56" y1="230.77" x2="347.56" y2="230.77" stroke="#e69f00" stroke-width="1"/><line x1="358.58" y1="226.00" x2="358.58" y2="236.00" stroke="#e69f00" stroke-width="0.9" stroke-dasharray="1,1.3"/><line x1="357.08" y1="226.00" x2="360.08" y2="226.00" stroke="#e69f00" stroke-width="1"/><line x1="357.08" y1="236.00" x2="360.08" y2="236.00" stroke="#e69f00" stroke-width="1"/><circle cx="58.10" cy="200.00" r="2.5" fill="none" stroke="#e69f00" stroke-width="1.1"/><circle cx="70.62" cy="176.58" r="2.5" fill="none" stroke="#e69f00" stroke-width="1.1"/><circle cx="83.14" cy="157.35" r="2.5" fill="none" stroke="#e69f00" stroke-width="1.1"/><circle cx="95.66" cy="138.65" r="2.5" fill="none" stroke="#e69f00" stroke-width="1.1"/><circle cx="108.18" cy="123.06" r="2.5" fill="none" stroke="#e69f00" stroke-width="1.1"/><circle cx="120.70" cy="113.07" r="2.5" fill="none" stroke="#e69f00" stroke-width="1.1"/><circle cx="133.22" cy="106.86" r="2.5" fill="none" stroke="#e69f00" stroke-width="1.1"/><circle cx="145.74" cy="103.01" r="2.5" fill="none" stroke="#e69f00" stroke-width="1.1"/><circle cx="158.26" cy="108.03" r="2.5" fill="none" stroke="#e69f00" stroke-width="1.1"/><circle cx="170.78" cy="113.47" r="2.5" fill="none" stroke="#e69f00" stroke-width="1.1"/><circle cx="183.30" cy="121.37" r="2.5" fill="none" stroke="#e69f00" stroke-width="1.1"/><circle cx="195.82" cy="130.05" r="2.5" fill="none" stroke="#e69f00" stroke-width="1.1"/><circle cx="208.34" cy="142.49" r="2.5" fill="none" stroke="#e69f00" stroke-width="1.1"/><circle cx="220.86" cy="152.73" r="2.5" fill="none" stroke="#e69f00" stroke-width="1.1"/><circle cx="233.38" cy="164.46" r="2.5" fill="none" stroke="#e69f00" stroke-width="1.1"/><circle cx="245.90" cy="173.07" r="2.5" fill="none" stroke="#e69f00" stroke-width="1.1"/><circle cx="258.42" cy="182.44" r="2.5" fill="none" stroke="#e69f00" stroke-width="1.1"/><circle cx="270.94" cy="185.77" r="2.5" fill="none" stroke="#e69f00" stroke-width="1.1"/><circle cx="283.46" cy="200.89" r="2.5" fill="none" stroke="#e69f00" stroke-width="1.1"/><circle cx="295.98" cy="202.63" r="2.5" fill="none" stroke="#e69f00" stroke-width="1.1"/><circle cx="308.50" cy="219.58" r="2.5" fill="none" stroke="#e69f00" stroke-width="1.1"/><circle cx="321.02" cy="219.74" r="2.5" fill="none" stroke="#e69f00" stroke-width="1.1"/><circle cx="333.54" cy="224.34" r="2.5" fill="none" stroke="#e69f00" stroke-width="1.1"/><circle cx="346.06" cy="225.41" r="2.5" fill="none" stroke="#e69f00" stroke-width="1.1"/><circle cx="358.58" cy="232.30" r="2.5" fill="none" stroke="#e69f00" stroke-width="1.1"/></g><g stroke="#000" fill="none"><rect x="45.5" y="17.5" width="325.70" height="460.20" stroke-width="1.2"/><line x1="45.5" y1="317.2" x2="371.2" y2="317.2" stroke-width="1.3"/><line x1="45.58" y1="17.5" x2="45.58" y2="21.50" stroke-width="1"/><line x1="45.58" y1="317.2" x2="45.58" y2="313.20" stroke-width="1"/><line x1="45.58" y1="317.2" x2="45.58" y2="319.50" stroke-width="1"/><line x1="45.58" y1="477.7" x2="45.58" y2="475.40" stroke-width="1"/><line x1="58.10" y1="17.5" x2="58.10" y2="19.80" stroke-width="1"/><line x1="58.10" y1="317.2" x2="58.10" y2="314.90" stroke-width="1"/><line x1="58.10" y1="317.2" x2="58.10" y2="318.60" stroke-width="1"/><line x1="58.10" y1="477.7" x2="58.10" y2="476.30" stroke-width="1"/><line x1="70.62" y1="17.5" x2="70.62" y2="21.50" stroke-width="1"/><line x1="70.62" y1="317.2" x2="70.62" y2="313.20" stroke-width="1"/><line x1="70.62" y1="317.2" x2="70.62" y2="319.50" stroke-width="1"/><line x1="70.62" y1="477.7" x2="70.62" y2="475.40" stroke-width="1"/><line x1="83.14" y1="17.5" x2="83.14" y2="19.80" stroke-width="1"/><line x1="83.14" y1="317.2" x2="83.14" y2="314.90" stroke-width="1"/><line x1="83.14" y1="317.2" x2="83.14" y2="318.60" stroke-width="1"/><line x1="83.14" y1="477.7" x2="83.14" y2="476.30" stroke-width="1"/><line x1="95.66" y1="17.5" x2="95.66" y2="21.50" stroke-width="1"/><line x1="95.66" y1="317.2" x2="95.66" y2="313.20" stroke-width="1"/><line x1="95.66" y1="317.2" x2="95.66" y2="319.50" stroke-width="1"/><line x1="95.66" y1="477.7" x2="95.66" y2="475.40" stroke-width="1"/><line x1="108.18" y1="17.5" x2="108.18" y2="19.80" stroke-width="1"/><line x1="108.18" y1="317.2" x2="108.18" y2="314.90" stroke-width="1"/><line x1="108.18" y1="317.2" x2="108.18" y2="318.60" stroke-width="1"/><line x1="108.18" y1="477.7" x2="108.18" y2="476.30" stroke-width="1"/><line x1="120.70" y1="17.5" x2="120.70" y2="25.80" stroke-width="1"/><line x1="120.70" y1="317.2" x2="120.70" y2="308.90" stroke-width="1"/><line x1="120.70" y1="317.2" x2="120.70" y2="322.20" stroke-width="1"/><line x1="120.70" y1="477.7" x2="120.70" y2="472.70" stroke-width="1"/><line x1="133.22" y1="17.5" x2="133.22" y2="19.80" stroke-width="1"/><line x1="133.22" y1="317.2" x2="133.22" y2="314.90" stroke-width="1"/><line x1="133.22" y1="317.2" x2="133.22" y2="318.60" stroke-width="1"/><line x1="133.22" y1="477.7" x2="133.22" y2="476.30" stroke-width="1"/><line x1="145.74" y1="17.5" x2="145.74" y2="21.50" stroke-width="1"/><line x1="145.74" y1="317.2" x2="145.74" y2="313.20" stroke-width="1"/><line x1="145.74" y1="317.2" x2="145.74" y2="319.50" stroke-width="1"/><line x1="145.74" y1="477.7" x2="145.74" y2="475.40" stroke-width="1"/><line x1="158.26" y1="17.5" x2="158.26" y2="19.80" stroke-width="1"/><line x1="158.26" y1="317.2" x2="158.26" y2="314.90" stroke-width="1"/><line x1="158.26" y1="317.2" x2="158.26" y2="318.60" stroke-width="1"/><line x1="158.26" y1="477.7" x2="158.26" y2="476.30" stroke-width="1"/><line x1="170.78" y1="17.5" x2="170.78" y2="21.50" stroke-width="1"/><line x1="170.78" y1="317.2" x2="170.78" y2="313.20" stroke-width="1"/><line x1="170.78" y1="317.2" x2="170.78" y2="319.50" stroke-width="1"/><line x1="170.78" y1="477.7" x2="170.78" y2="475.40" stroke-width="1"/><line x1="183.30" y1="17.5" x2="183.30" y2="19.80" stroke-width="1"/><line x1="183.30" y1="317.2" x2="183.30" y2="314.90" stroke-width="1"/><line x1="183.30" y1="317.2" x2="183.30" y2="318.60" stroke-width="1"/><line x1="183.30" y1="477.7" x2="183.30" y2="476.30" stroke-width="1"/><line x1="195.82" y1="17.5" x2="195.82" y2="21.50" stroke-width="1"/><line x1="195.82" y1="317.2" x2="195.82" y2="313.20" stroke-width="1"/><line x1="195.82" y1="317.2" x2="195.82" y2="319.50" stroke-width="1"/><line x1="195.82" y1="477.7" x2="195.82" y2="475.40" stroke-width="1"/><line x1="208.34" y1="17.5" x2="208.34" y2="19.80" stroke-width="1"/><line x1="208.34" y1="317.2" x2="208.34" y2="314.90" stroke-width="1"/><line x1="208.34" y1="317.2" x2="208.34" y2="318.60" stroke-width="1"/><line x1="208.34" y1="477.7" x2="208.34" y2="476.30" stroke-width="1"/><line x1="220.86" y1="17.5" x2="220.86" y2="21.50" stroke-width="1"/><line x1="220.86" y1="317.2" x2="220.86" y2="313.20" stroke-width="1"/><line x1="220.86" y1="317.2" x2="220.86" y2="319.50" stroke-width="1"/><line x1="220.86" y1="477.7" x2="220.86" y2="475.40" stroke-width="1"/><line x1="233.38" y1="17.5" x2="233.38" y2="19.80" stroke-width="1"/><line x1="233.38" y1="317.2" x2="233.38" y2="314.90" stroke-width="1"/><line x1="233.38" y1="317.2" x2="233.38" y2="318.60" stroke-width="1"/><line x1="233.38" y1="477.7" x2="233.38" y2="476.30" stroke-width="1"/><line x1="245.90" y1="17.5" x2="245.90" y2="25.80" stroke-width="1"/><line x1="245.90" y1="317.2" x2="245.90" y2="308.90" stroke-width="1"/><line x1="245.90" y1="317.2" x2="245.90" y2="322.20" stroke-width="1"/><line x1="245.90" y1="477.7" x2="245.90" y2="472.70" stroke-width="1"/><line x1="258.42" y1="17.5" x2="258.42" y2="19.80" stroke-width="1"/><line x1="258.42" y1="317.2" x2="258.42" y2="314.90" stroke-width="1"/><line x1="258.42" y1="317.2" x2="258.42" y2="318.60" stroke-width="1"/><line x1="258.42" y1="477.7" x2="258.42" y2="476.30" stroke-width="1"/><line x1="270.94" y1="17.5" x2="270.94" y2="21.50" stroke-width="1"/><line x1="270.94" y1="317.2" x2="270.94" y2="313.20" stroke-width="1"/><line x1="270.94" y1="317.2" x2="270.94" y2="319.50" stroke-width="1"/><line x1="270.94" y1="477.7" x2="270.94" y2="475.40" stroke-width="1"/><line x1="283.46" y1="17.5" x2="283.46" y2="19.80" stroke-width="1"/><line x1="283.46" y1="317.2" x2="283.46" y2="314.90" stroke-width="1"/><line x1="283.46" y1="317.2" x2="283.46" y2="318.60" stroke-width="1"/><line x1="283.46" y1="477.7" x2="283.46" y2="476.30" stroke-width="1"/><line x1="295.98" y1="17.5" x2="295.98" y2="21.50" stroke-width="1"/><line x1="295.98" y1="317.2" x2="295.98" y2="313.20" stroke-width="1"/><line x1="295.98" y1="317.2" x2="295.98" y2="319.50" stroke-width="1"/><line x1="295.98" y1="477.7" x2="295.98" y2="475.40" stroke-width="1"/><line x1="308.50" y1="17.5" x2="308.50" y2="19.80" stroke-width="1"/><line x1="308.50" y1="317.2" x2="308.50" y2="314.90" stroke-width="1"/><line x1="308.50" y1="317.2" x2="308.50" y2="318.60" stroke-width="1"/><line x1="308.50" y1="477.7" x2="308.50" y2="476.30" stroke-width="1"/><line x1="321.02" y1="17.5" x2="321.02" y2="21.50" stroke-width="1"/><line x1="321.02" y1="317.2" x2="321.02" y2="313.20" stroke-width="1"/><line x1="321.02" y1="317.2" x2="321.02" y2="319.50" stroke-width="1"/><line x1="321.02" y1="477.7" x2="321.02" y2="475.40" stroke-width="1"/><line x1="333.54" y1="17.5" x2="333.54" y2="19.80" stroke-width="1"/><line x1="333.54" y1="317.2" x2="333.54" y2="314.90" stroke-width="1"/><line x1="333.54" y1="317.2" x2="333.54" y2="318.60" stroke-width="1"/><line x1="333.54" y1="477.7" x2="333.54" y2="476.30" stroke-width="1"/><line x1="346.06" y1="17.5" x2="346.06" y2="21.50" stroke-width="1"/><line x1="346.06" y1="317.2" x2="346.06" y2="313.20" stroke-width="1"/><line x1="346.06" y1="317.2" x2="346.06" y2="319.50" stroke-width="1"/><line x1="346.06" y1="477.7" x2="346.06" y2="475.40" stroke-width="1"/><line x1="358.58" y1="17.5" x2="358.58" y2="19.80" stroke-width="1"/><line x1="358.58" y1="317.2" x2="358.58" y2="314.90" stroke-width="1"/><line x1="358.58" y1="317.2" x2="358.58" y2="318.60" stroke-width="1"/><line x1="358.58" y1="477.7" x2="358.58" y2="476.30" stroke-width="1"/><line x1="371.10" y1="17.5" x2="371.10" y2="25.80" stroke-width="1"/><line x1="371.10" y1="317.2" x2="371.10" y2="308.90" stroke-width="1"/><line x1="371.10" y1="317.2" x2="371.10" y2="322.20" stroke-width="1"/><line x1="371.10" y1="477.7" x2="371.10" y2="472.70" stroke-width="1"/><line x1="45.5" y1="316.55" x2="51.0" y2="316.55" stroke-width="1"/><line x1="371.2" y1="316.55" x2="365.7" y2="316.55" stroke-width="1"/><line x1="45.5" y1="309.39" x2="51.0" y2="309.39" stroke-width="1"/><line x1="371.2" y1="309.39" x2="365.7" y2="309.39" stroke-width="1"/><line x1="45.5" y1="303.84" x2="51.0" y2="303.84" stroke-width="1"/><line x1="371.2" y1="303.84" x2="365.7" y2="303.84" stroke-width="1"/><line x1="45.5" y1="299.31" x2="51.0" y2="299.31" stroke-width="1"/><line x1="371.2" y1="299.31" x2="365.7" y2="299.31" stroke-width="1"/><line x1="45.5" y1="295.47" x2="51.0" y2="295.47" stroke-width="1"/><line x1="371.2" y1="295.47" x2="365.7" y2="295.47" stroke-width="1"/><line x1="45.5" y1="292.15" x2="51.0" y2="292.15" stroke-width="1"/><line x1="371.2" y1="292.15" x2="365.7" y2="292.15" stroke-width="1"/><line x1="45.5" y1="289.22" x2="51.0" y2="289.22" stroke-width="1"/><line x1="371.2" y1="289.22" x2="365.7" y2="289.22" stroke-width="1"/><line x1="45.5" y1="286.60" x2="56.5" y2="286.60" stroke-width="1"/><line x1="371.2" y1="286.60" x2="360.2" y2="286.60" stroke-width="1"/><line x1="45.5" y1="269.36" x2="51.0" y2="269.36" stroke-width="1"/><line x1="371.2" y1="269.36" x2="365.7" y2="269.36" stroke-width="1"/><line x1="45.5" y1="259.28" x2="51.0" y2="259.28" stroke-width="1"/><line x1="371.2" y1="259.28" x2="365.7" y2="259.28" stroke-width="1"/><line x1="45.5" y1="252.12" x2="51.0" y2="252.12" stroke-width="1"/><line x1="371.2" y1="252.12" x2="365.7" y2="252.12" stroke-width="1"/><line x1="45.5" y1="246.57" x2="51.0" y2="246.57" stroke-width="1"/><line x1="371.2" y1="246.57" x2="365.7" y2="246.57" stroke-width="1"/><line x1="45.5" y1="242.04" x2="51.0" y2="242.04" stroke-width="1"/><line x1="371.2" y1="242.04" x2="365.7" y2="242.04" stroke-width="1"/><line x1="45.5" y1="238.20" x2="51.0" y2="238.20" stroke-width="1"/><line x1="371.2" y1="238.20" x2="365.7" y2="238.20" stroke-width="1"/><line x1="45.5" y1="234.88" x2="51.0" y2="234.88" stroke-width="1"/><line x1="371.2" y1="234.88" x2="365.7" y2="234.88" stroke-width="1"/><line x1="45.5" y1="231.95" x2="51.0" y2="231.95" stroke-width="1"/><line x1="371.2" y1="231.95" x2="365.7" y2="231.95" stroke-width="1"/><line x1="45.5" y1="229.33" x2="56.5" y2="229.33" stroke-width="1"/><line x1="371.2" y1="229.33" x2="360.2" y2="229.33" stroke-width="1"/><line x1="45.5" y1="212.09" x2="51.0" y2="212.09" stroke-width="1"/><line x1="371.2" y1="212.09" x2="365.7" y2="212.09" stroke-width="1"/><line x1="45.5" y1="202.01" x2="51.0" y2="202.01" stroke-width="1"/><line x1="371.2" y1="202.01" x2="365.7" y2="202.01" stroke-width="1"/><line x1="45.5" y1="194.85" x2="51.0" y2="194.85" stroke-width="1"/><line x1="371.2" y1="194.85" x2="365.7" y2="194.85" stroke-width="1"/><line x1="45.5" y1="189.30" x2="51.0" y2="189.30" stroke-width="1"/><line x1="371.2" y1="189.30" x2="365.7" y2="189.30" stroke-width="1"/><line x1="45.5" y1="184.77" x2="51.0" y2="184.77" stroke-width="1"/><line x1="371.2" y1="184.77" x2="365.7" y2="184.77" stroke-width="1"/><line x1="45.5" y1="180.93" x2="51.0" y2="180.93" stroke-width="1"/><line x1="371.2" y1="180.93" x2="365.7" y2="180.93" stroke-width="1"/><line x1="45.5" y1="177.61" x2="51.0" y2="177.61" stroke-width="1"/><line x1="371.2" y1="177.61" x2="365.7" y2="177.61" stroke-width="1"/><line x1="45.5" y1="174.68" x2="51.0" y2="174.68" stroke-width="1"/><line x1="371.2" y1="174.68" x2="365.7" y2="174.68" stroke-width="1"/><line x1="45.5" y1="172.06" x2="56.5" y2="172.06" stroke-width="1"/><line x1="371.2" y1="172.06" x2="360.2" y2="172.06" stroke-width="1"/><line x1="45.5" y1="154.82" x2="51.0" y2="154.82" stroke-width="1"/><line x1="371.2" y1="154.82" x2="365.7" y2="154.82" stroke-width="1"/><line x1="45.5" y1="144.74" x2="51.0" y2="144.74" stroke-width="1"/><line x1="371.2" y1="144.74" x2="365.7" y2="144.74" stroke-width="1"/><line x1="45.5" y1="137.58" x2="51.0" y2="137.58" stroke-width="1"/><line x1="371.2" y1="137.58" x2="365.7" y2="137.58" stroke-width="1"/><line x1="45.5" y1="132.03" x2="51.0" y2="132.03" stroke-width="1"/><line x1="371.2" y1="132.03" x2="365.7" y2="132.03" stroke-width="1"/><line x1="45.5" y1="127.50" x2="51.0" y2="127.50" stroke-width="1"/><line x1="371.2" y1="127.50" x2="365.7" y2="127.50" stroke-width="1"/><line x1="45.5" y1="123.66" x2="51.0" y2="123.66" stroke-width="1"/><line x1="371.2" y1="123.66" x2="365.7" y2="123.66" stroke-width="1"/><line x1="45.5" y1="120.34" x2="51.0" y2="120.34" stroke-width="1"/><line x1="371.2" y1="120.34" x2="365.7" y2="120.34" stroke-width="1"/><line x1="45.5" y1="117.41" x2="51.0" y2="117.41" stroke-width="1"/><line x1="371.2" y1="117.41" x2="365.7" y2="117.41" stroke-width="1"/><line x1="45.5" y1="114.79" x2="56.5" y2="114.79" stroke-width="1"/><line x1="371.2" y1="114.79" x2="360.2" y2="114.79" stroke-width="1"/><line x1="45.5" y1="97.55" x2="51.0" y2="97.55" stroke-width="1"/><line x1="371.2" y1="97.55" x2="365.7" y2="97.55" stroke-width="1"/><line x1="45.5" y1="87.47" x2="51.0" y2="87.47" stroke-width="1"/><line x1="371.2" y1="87.47" x2="365.7" y2="87.47" stroke-width="1"/><line x1="45.5" y1="80.31" x2="51.0" y2="80.31" stroke-width="1"/><line x1="371.2" y1="80.31" x2="365.7" y2="80.31" stroke-width="1"/><line x1="45.5" y1="74.76" x2="51.0" y2="74.76" stroke-width="1"/><line x1="371.2" y1="74.76" x2="365.7" y2="74.76" stroke-width="1"/><line x1="45.5" y1="70.23" x2="51.0" y2="70.23" stroke-width="1"/><line x1="371.2" y1="70.23" x2="365.7" y2="70.23" stroke-width="1"/><line x1="45.5" y1="66.39" x2="51.0" y2="66.39" stroke-width="1"/><line x1="371.2" y1="66.39" x2="365.7" y2="66.39" stroke-width="1"/><line x1="45.5" y1="63.07" x2="51.0" y2="63.07" stroke-width="1"/><line x1="371.2" y1="63.07" x2="365.7" y2="63.07" stroke-width="1"/><line x1="45.5" y1="60.14" x2="51.0" y2="60.14" stroke-width="1"/><line x1="371.2" y1="60.14" x2="365.7" y2="60.14" stroke-width="1"/><line x1="45.5" y1="57.52" x2="56.5" y2="57.52" stroke-width="1"/><line x1="371.2" y1="57.52" x2="360.2" y2="57.52" stroke-width="1"/><line x1="45.5" y1="40.28" x2="51.0" y2="40.28" stroke-width="1"/><line x1="371.2" y1="40.28" x2="365.7" y2="40.28" stroke-width="1"/><line x1="45.5" y1="30.20" x2="51.0" y2="30.20" stroke-width="1"/><line x1="371.2" y1="30.20" x2="365.7" y2="30.20" stroke-width="1"/><line x1="45.5" y1="23.04" x2="51.0" y2="23.04" stroke-width="1"/><line x1="371.2" y1="23.04" x2="365.7" y2="23.04" stroke-width="1"/><line x1="45.5" y1="477.61" x2="50.5" y2="477.61" stroke-width="1"/><line x1="371.2" y1="477.61" x2="366.2" y2="477.61" stroke-width="1"/><line x1="45.5" y1="458.15" x2="52.9" y2="458.15" stroke-width="1"/><line x1="371.2" y1="458.15" x2="363.8" y2="458.15" stroke-width="1"/><line x1="45.5" y1="442.25" x2="50.5" y2="442.25" stroke-width="1"/><line x1="371.2" y1="442.25" x2="366.2" y2="442.25" stroke-width="1"/><line x1="45.5" y1="428.80" x2="50.5" y2="428.80" stroke-width="1"/><line x1="371.2" y1="428.80" x2="366.2" y2="428.80" stroke-width="1"/><line x1="45.5" y1="417.16" x2="50.5" y2="417.16" stroke-width="1"/><line x1="371.2" y1="417.16" x2="366.2" y2="417.16" stroke-width="1"/><line x1="45.5" y1="406.89" x2="50.5" y2="406.89" stroke-width="1"/><line x1="371.2" y1="406.89" x2="366.2" y2="406.89" stroke-width="1"/><line x1="45.5" y1="397.70" x2="52.9" y2="397.70" stroke-width="1"/><line x1="371.2" y1="397.70" x2="363.8" y2="397.70" stroke-width="1"/><line x1="45.5" y1="389.39" x2="50.5" y2="389.39" stroke-width="1"/><line x1="371.2" y1="389.39" x2="366.2" y2="389.39" stroke-width="1"/><line x1="45.5" y1="381.80" x2="50.5" y2="381.80" stroke-width="1"/><line x1="371.2" y1="381.80" x2="366.2" y2="381.80" stroke-width="1"/><line x1="45.5" y1="374.82" x2="50.5" y2="374.82" stroke-width="1"/><line x1="371.2" y1="374.82" x2="366.2" y2="374.82" stroke-width="1"/><line x1="45.5" y1="368.36" x2="50.5" y2="368.36" stroke-width="1"/><line x1="371.2" y1="368.36" x2="366.2" y2="368.36" stroke-width="1"/><line x1="45.5" y1="362.34" x2="50.5" y2="362.34" stroke-width="1"/><line x1="371.2" y1="362.34" x2="366.2" y2="362.34" stroke-width="1"/><line x1="45.5" y1="356.71" x2="50.5" y2="356.71" stroke-width="1"/><line x1="371.2" y1="356.71" x2="366.2" y2="356.71" stroke-width="1"/><line x1="45.5" y1="351.43" x2="50.5" y2="351.43" stroke-width="1"/><line x1="371.2" y1="351.43" x2="366.2" y2="351.43" stroke-width="1"/><line x1="45.5" y1="346.44" x2="50.5" y2="346.44" stroke-width="1"/><line x1="371.2" y1="346.44" x2="366.2" y2="346.44" stroke-width="1"/><line x1="45.5" y1="341.73" x2="50.5" y2="341.73" stroke-width="1"/><line x1="371.2" y1="341.73" x2="366.2" y2="341.73" stroke-width="1"/><line x1="45.5" y1="337.25" x2="52.9" y2="337.25" stroke-width="1"/><line x1="371.2" y1="337.25" x2="363.8" y2="337.25" stroke-width="1"/><line x1="45.5" y1="333.00" x2="50.5" y2="333.00" stroke-width="1"/><line x1="371.2" y1="333.00" x2="366.2" y2="333.00" stroke-width="1"/><line x1="45.5" y1="328.94" x2="50.5" y2="328.94" stroke-width="1"/><line x1="371.2" y1="328.94" x2="366.2" y2="328.94" stroke-width="1"/><line x1="45.5" y1="325.07" x2="50.5" y2="325.07" stroke-width="1"/><line x1="371.2" y1="325.07" x2="366.2" y2="325.07" stroke-width="1"/><line x1="45.5" y1="321.35" x2="50.5" y2="321.35" stroke-width="1"/><line x1="371.2" y1="321.35" x2="366.2" y2="321.35" stroke-width="1"/><line x1="45.5" y1="317.79" x2="50.5" y2="317.79" stroke-width="1"/><line x1="371.2" y1="317.79" x2="366.2" y2="317.79" stroke-width="1"/></g><rect x="73.60" y="59.60" width="5.6" height="5.6" fill="#000"/><line x1="64" y1="75.1" x2="89" y2="75.1" stroke="#0000ff" stroke-opacity="0.7" stroke-width="1.2"/><path d="M76.40,72.30 L79.40,77.50 L73.40,77.50Z" fill="#0000ff"/><line x1="64" y1="88.1" x2="89" y2="88.1" stroke="#e69f00" stroke-opacity="0.8" stroke-width="1.2" stroke-dasharray="2.2,1.8"/><circle cx="76.20" cy="88.10" r="2.9" fill="#e69f00"/><line x1="64" y1="101.1" x2="89" y2="101.1" stroke="#e69f00" stroke-opacity="0.7" stroke-width="1.1" stroke-dasharray="1,1.2"/><circle cx="76.2" cy="101" r="3" fill="#fff"/><circle cx="76.20" cy="101.00" r="2.5" fill="none" stroke="#e69f00" stroke-width="1.1"/></svg>
<div class="t" style="left:52px;top:4px;font-size:12px">13000 GeV pp</div>
<div class="t" style="right:26px;top:4px;font-size:12px">Z (Drell-Yan)</div>
<div class="t" style="left:94px;top:32px;font-size:12px">Away region, 10 &lt; p<span style="position:relative;font-size:8px"><span style="position:absolute;left:0.5px;top:-4px">Z</span><span style="position:absolute;left:-0.5px;top:8px">T</span></span><span style="display:inline-block;width:4.5px"></span> &lt; 20 [GeV], low thrust</div>
<div class="t" style="left:94px;top:57px;font-size:9.5px">ATLAS</div>
<div class="t" style="left:94px;top:70px;font-size:9.5px">Pythia 8.315 default</div>
<div class="t" style="left:94px;top:83px;font-size:9.5px">Pythia 8.315 tune-2c</div>
<div class="t" style="left:94px;top:96px;font-size:9.5px">Pythia 8.315 tune-2m</div>
<div class="t" style="left:162.5px;top:295px;font-size:8px;color:#888">(ATLAS_2019_I1736531)</div>
<div class="t" style="right:353px;top:53px;font-size:11px">10</div>
<div class="t" style="right:353px;top:110px;font-size:11px">1</div>
<div class="t" style="left:21.3px;top:169px;font-size:11px">10<span style="position:relative;top:-5.6px;font-size:7.5px;letter-spacing:-0.6px">&minus;1</span></div>
<div class="t" style="left:19.5px;top:226.6px;font-size:11px">10<span style="position:relative;top:-5.6px;font-size:7.5px;letter-spacing:-0.6px">&minus;2</span></div>
<div class="t" style="left:19.5px;top:283.6px;font-size:11px">10<span style="position:relative;top:-5.6px;font-size:7.5px;letter-spacing:-0.6px">&minus;3</span></div>
<div class="t" style="right:355px;top:332px;font-size:12px">2</div>
<div class="t" style="right:355px;top:393px;font-size:12px">1</div>
<div class="t" style="right:355px;top:453px;font-size:12px">0.5</div>
<div class="t" style="left:116px;top:480px;font-size:11px">1</div>
<div class="t" style="left:241px;top:480px;font-size:11px">2</div>
<div class="t" style="left:367px;top:480px;font-size:11px">3</div>
<div class="t" style="left:289.3px;top:491px;font-size:12px;word-spacing:0px">Mean p<span style="position:relative;top:6.5px;font-size:8px">T</span>/d&eta; d&#x3d5;</div>
<div class="t" style="left:0;top:0;font-size:11.6px;transform-origin:0 0;transform:translate(4px,166.5px) rotate(-90deg)">1/N<span style="position:relative;top:3.5px;font-size:7.6px">ev</span> dN<span style="position:relative;top:3.5px;font-size:7.6px">ev</span>/d mean p<span style="position:relative;top:3.5px;font-size:7.6px">T</span> [GeV]<span style="position:relative;top:-5px;font-size:7.6px">&minus;1</span></div>
<div class="t" style="left:0;top:0;font-size:9.2px;transform-origin:0 0;transform:translate(11px,428px) rotate(-90deg)">Ratio to ATLAS</div>
<div class="t" style="left:0;top:0;font-size:9.5px;color:#666;transform-origin:0 0;transform:translate(372.4px,127.2px) rotate(-90deg)">Rivet 4.1.0, &ge; 3.7M events</div>
<div class="t" style="left:0;top:0;font-size:9.25px;color:#666;transform-origin:0 0;transform:translate(374.4px,311px) rotate(-90deg)">mcplots.cern.ch [arXiv:2401.10621]</div>
</body></html>
